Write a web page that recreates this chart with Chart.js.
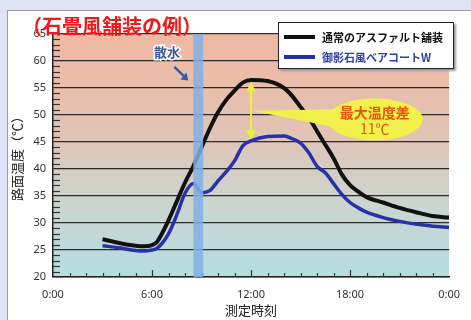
<!DOCTYPE html>
<html>
<head>
<meta charset="utf-8">
<script src="https://cdn.jsdelivr.net/npm/chart.js@4/dist/chart.umd.min.js"></script>
<style>
  body { margin: 0; width: 471px; height: 320px; background: #dfe2f2; overflow: hidden; font-family: "Noto Sans CJK JP", "Noto Sans", sans-serif; }
  #panel { position: absolute; left: 7px; top: 10px; width: 464px; height: 310px; background: #fff; border-top: 1px solid #9a9aa8; border-left: 1px solid #9a9aa8; box-sizing: border-box; }
  #chart { position: absolute; left: -1px; top: -1px; }
  #title { position: absolute; left: 14px; top: 3px; color: #f01818; font-weight: bold; font-size: 20px; line-height: 24px; white-space: nowrap; }
  #legend { position: absolute; left: 270px; top: 11px; width: 176px; height: 47px; background: #fff; border: 1.5px solid #222; box-shadow: 2px 2px 2px #999; box-sizing: border-box; padding-top: 4px; }
  .row { display: flex; align-items: center; height: 20px; padding-left: 5px; font-size: 11px; font-weight: bold; }
  .swatch { width: 31px; height: 4px; margin-right: 7px; }
</style>
</head>
<body>
<div id="panel">
  <canvas id="chart" width="464" height="310"></canvas>
  <div id="title">（石畳風舗装の例）</div>
  <div id="legend"></div>
</div>
<script>
// 時刻 (h)
const hours = [3, 4, 5, 5.5, 6, 6.3, 7, 7.5, 8, 8.5, 9, 9.5, 10, 10.5, 11, 11.5, 12, 13, 14, 14.5, 15, 15.5, 16, 16.5, 17, 17.5, 18, 18.5, 19, 20, 21, 22, 23, 24];
// 通常のアスファルト舗装
const asphalt = [27, 26.3, 25.8, 25.7, 25.9, 26.5, 30.5, 34, 37.5, 40.5, 44, 47.5, 50.5, 52.8, 54.5, 56, 56.5, 56.3, 55, 53.5, 51.5, 49.5, 47, 44.5, 42, 39, 37, 35.8, 34.8, 33.8, 32.8, 32, 31.3, 31];
// 御影石風ベアコートW
const granite = [25.8, 25.4, 24.9, 24.8, 25, 25.3, 28, 31.5, 35.5, 37.3, 35.6, 36, 37.8, 39.5, 41.5, 44.3, 45.2, 46, 46.1, 45.6, 44.8, 43, 40.5, 39.3, 37.3, 35.3, 33.8, 32.8, 32, 31, 30.3, 29.8, 29.4, 29.2];

const seriesNames = ['通常のアスファルト舗装', '御影石風ベアコートW'];
const seriesColors = ['#111111', '#2832a8'];
const xTicks = [0, 6, 12, 18, 24];
const sprinkle = [8.5, 9.1]; // 散水
const maxDiffAt = 12;
const maxDiffTop = 56;
const maxDiffBottom = 45.5;
const maxDiffText = ['最大温度差', '11℃'];

// legend
const legend = document.getElementById('legend');
seriesNames.forEach((name, i) => {
  const row = document.createElement('div');
  row.className = 'row';
  row.style.color = i === 0 ? '#111' : '#2a3fa8';
  row.innerHTML = `<span class="swatch" style="background:${seriesColors[i]}"></span>${name}`;
  legend.appendChild(row);
});

const bgPlugin = {
  id: 'bg',
  beforeDraw(chart) {
    const { ctx, chartArea: a } = chart;
    const g = ctx.createLinearGradient(0, a.top, 0, a.bottom);
    g.addColorStop(0, '#f1b8a2');
    g.addColorStop(0.4, '#e2c3b4');
    g.addColorStop(0.7, '#cbd5d0');
    g.addColorStop(1, '#b6dde0');
    ctx.save();
    ctx.fillStyle = g;
    ctx.fillRect(a.left, a.top, a.right - a.left, a.bottom - a.top);
    ctx.restore();
  },
  beforeDatasetsDraw(chart) {
    const { ctx, chartArea: a, scales } = chart;
    ctx.save();
    ctx.strokeStyle = '#333';
    ctx.lineWidth = 1.2;
    // y minor ticks
    for (let v = 21; v < 65; v++) {
      if (v % 5 === 0) continue;
      const y = Math.round(scales.y.getPixelForValue(v)) + 0.5;
      ctx.beginPath();
      ctx.moveTo(a.left, y);
      ctx.lineTo(a.left + 7, y);
      ctx.stroke();
    }
    // x ticks
    for (let h = 1; h < 24; h++) {
      const x = Math.round(scales.x.getPixelForValue(h)) + 0.5;
      const len = h % 6 === 0 ? 7 : 4;
      ctx.beginPath();
      ctx.moveTo(x, a.bottom);
      ctx.lineTo(x, a.bottom - len);
      ctx.stroke();
    }
    ctx.restore();
  },
  afterDatasetsDraw(chart) {
    const { ctx, chartArea: a, scales } = chart;
    const xs = scales.x, ys = scales.y;
    ctx.save();
    // 散水 band
    const x1 = xs.getPixelForValue(sprinkle[0]);
    const x2 = xs.getPixelForValue(sprinkle[1]);
    ctx.fillStyle = 'rgba(130,175,230,0.85)';
    ctx.fillRect(x1, a.top, x2 - x1, a.bottom - a.top);

    // 散水 label + arrow
    ctx.font = 'bold 13px "Noto Sans CJK JP"';
    ctx.textAlign = 'center';
    ctx.textBaseline = 'middle';
    ctx.lineWidth = 3;
    ctx.strokeStyle = '#fff';
    const lx = xs.getPixelForValue(6.9), ly = ys.getPixelForValue(61.6);
    ctx.strokeText('散水', lx, ly);
    ctx.fillStyle = '#3d5a92';
    ctx.fillText('散水', lx, ly);
    const ax1 = xs.getPixelForValue(7.35), ay1 = ys.getPixelForValue(58.9);
    const ax2 = xs.getPixelForValue(8.2), ay2 = ys.getPixelForValue(56.4);
    ctx.strokeStyle = '#2f5eb0';
    ctx.lineWidth = 2.5;
    ctx.beginPath();
    ctx.moveTo(ax1, ay1);
    ctx.lineTo(ax2 - 3, ay2 - 3);
    ctx.stroke();
    ctx.fillStyle = '#2f5eb0';
    ctx.beginPath();
    ctx.moveTo(ax2, ay2);
    ctx.lineTo(ax2 - 8, ay2 - 1);
    ctx.lineTo(ax2 - 2, ay2 - 8);
    ctx.closePath();
    ctx.fill();

    // 最大温度差 arrow
    const dx = xs.getPixelForValue(maxDiffAt);
    const dTop = ys.getPixelForValue(maxDiffTop);
    const dBot = ys.getPixelForValue(maxDiffBottom);
    const yellow = '#eef03a';
    ctx.strokeStyle = yellow;
    ctx.fillStyle = yellow;
    ctx.lineWidth = 2;
    ctx.beginPath();
    ctx.moveTo(dx, dTop + 6);
    ctx.lineTo(dx, dBot - 6);
    ctx.stroke();
    [[dTop, 1], [dBot, -1]].forEach(([y, s]) => {
      ctx.beginPath();
      ctx.moveTo(dx, y);
      ctx.lineTo(dx - 5, y + s * 9);
      ctx.lineTo(dx + 5, y + s * 9);
      ctx.closePath();
      ctx.fill();
    });

    // bubble
    const bx = xs.getPixelForValue(19.5), by = ys.getPixelForValue(49.2);
    const pointY = ys.getPixelForValue(50.8);
    ctx.fillStyle = '#f2f04a';
    ctx.beginPath();
    ctx.moveTo(dx + 1, pointY);
    ctx.lineTo(bx - 40, by - 10);
    ctx.lineTo(bx - 40, by + 8);
    ctx.closePath();
    ctx.fill();
    ctx.beginPath();
    ctx.ellipse(bx, by, 48, 21, 0, 0, Math.PI * 2);
    ctx.fill();
    ctx.fillStyle = '#e8560c';
    ctx.font = 'bold 14px "Noto Sans CJK JP"';
    ctx.fillText(maxDiffText[0], bx, by - 7);
    ctx.font = '14px "Noto Sans CJK JP"';
    ctx.fillText(maxDiffText[1], bx, by + 9);
    ctx.restore();
  }
};

new Chart(document.getElementById('chart'), {
  type: 'line',
  data: {
    datasets: [
      { label: seriesNames[0], data: hours.map((h, i) => ({ x: h, y: asphalt[i] })), borderColor: seriesColors[0], borderWidth: 4, pointRadius: 0, cubicInterpolationMode: 'monotone' },
      { label: seriesNames[1], data: hours.map((h, i) => ({ x: h, y: granite[i] })), borderColor: seriesColors[1], borderWidth: 3.5, pointRadius: 0, cubicInterpolationMode: 'monotone' }
    ]
  },
  options: {
    responsive: false,
    animation: false,
    layout: { padding: { left: 0, top: 24, right: 11, bottom: 0 } },
    plugins: { legend: { display: false }, tooltip: { enabled: false } },
    scales: {
      x: {
        type: 'linear', min: 0, max: 24,
        afterBuildTicks: s => { s.ticks = xTicks.map(v => ({ value: v })); },
        afterFit: s => { s.height = 43; },
        ticks: { callback: v => (v % 24) + ':00', color: '#333', font: { size: 11, family: 'Noto Sans' }, padding: 11, maxRotation: 0 },
        grid: { drawOnChartArea: false, drawTicks: false },
        border: { color: '#222', width: 1.5 },
        title: { display: true, text: '測定時刻', color: '#222', font: { size: 13, family: 'Noto Sans CJK JP' }, padding: { top: 0, bottom: 2 } }
      },
      y: {
        min: 20, max: 65,
        afterFit: s => { s.width = 46; },
        ticks: { stepSize: 5, color: '#333', font: { size: 11, family: 'Noto Sans' }, padding: 7 },
        grid: { color: '#2a2a2a', lineWidth: 1.2, drawTicks: false },
        border: { color: '#222', width: 1.5 },
        title: { display: true, text: '路面温度（℃）', color: '#222', font: { size: 13, family: 'Noto Sans CJK JP' }, padding: { top: 2, bottom: 0 } }
      }
    }
  },
  plugins: [bgPlugin]
});
</script>
</body>
</html>
